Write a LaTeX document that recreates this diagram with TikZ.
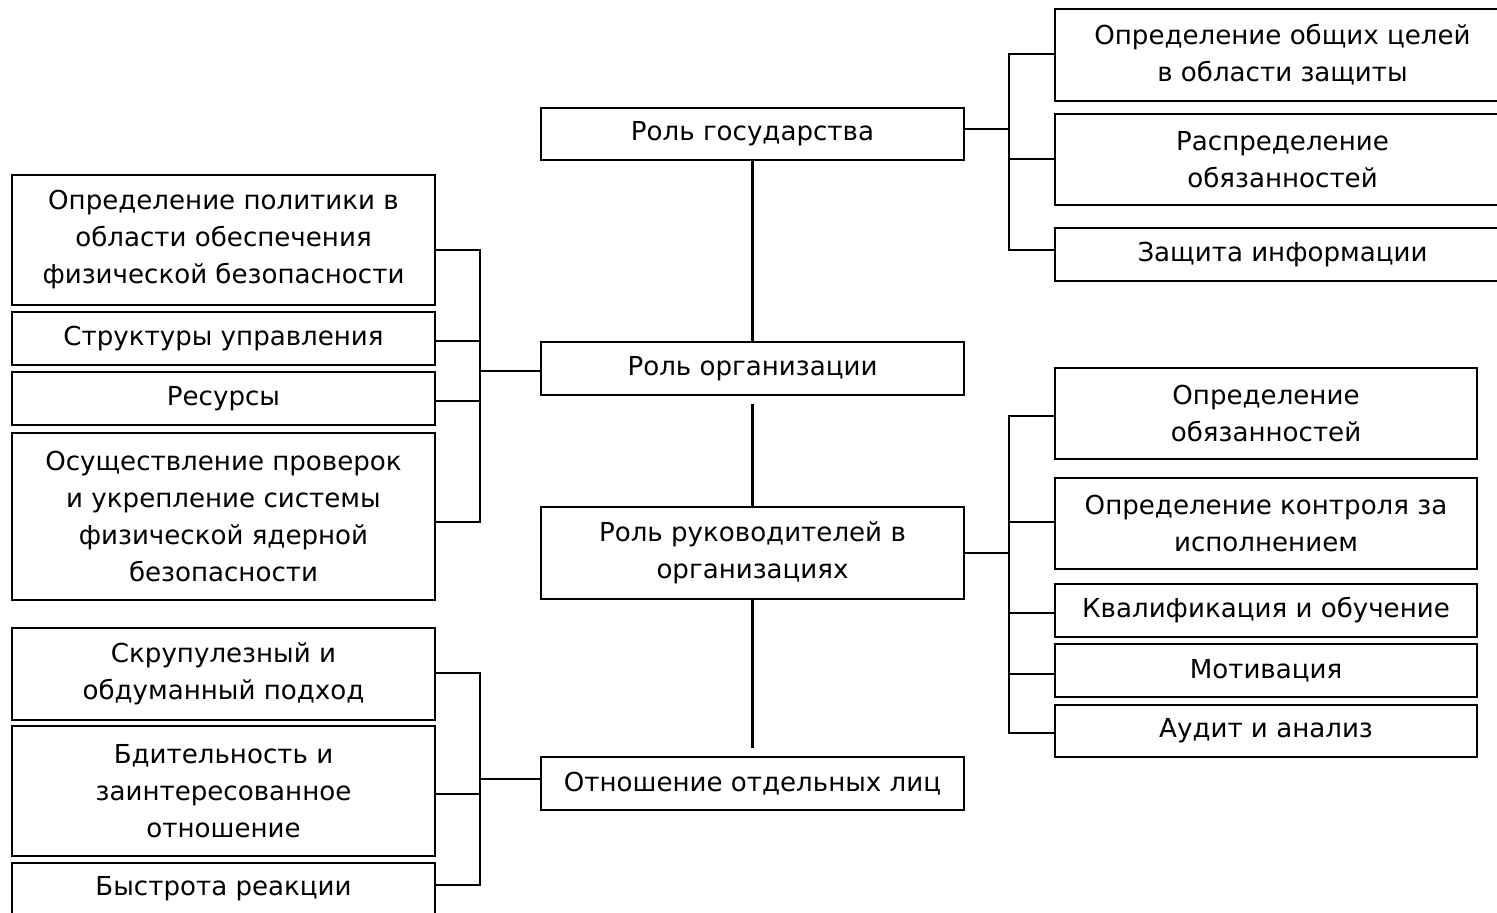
\documentclass[tikz,border=0pt]{standalone}
\usepackage{fontspec}
\setmainfont{DejaVu Sans}
\begin{document}
\begin{tikzpicture}[x=0.5pt,y=-0.5pt,
  box/.style={draw=black, line width=1.3pt, inner sep=0pt, align=center, fill=white,
    font=\fontsize{13.05}{18.5}\selectfont},
  link/.style={draw=black, line width=1.4pt, line cap=rect}]
\useasboundingbox (0,0) rectangle (1497,913);
\newcommand\mybox[6]{%
  \node[box, minimum width={(#4-#2)*0.5pt}, minimum height={(#5-#3)*0.5pt}]
    (#1) at ({(#2+#4)/2},{(#3+#5)/2+1}) {#6};}
% centre column
\mybox{gov}{541}{107}{964}{159}{Роль государства}
\mybox{org}{541}{341}{964}{394}{Роль организации}
\mybox{ruk}{541}{506}{964}{598}{Роль руководителей в\\организациях}
\mybox{otn}{541}{756}{964}{809}{Отношение отдельных лиц}
% top right
\mybox{t1}{1055}{8}{1510}{100}{Определение общих целей\\в области защиты}
\mybox{t2}{1055}{113}{1510}{204}{Распределение\\обязанностей}
\mybox{t3}{1055}{227}{1510}{280}{Защита информации}
% middle right
\mybox{r1}{1055}{367}{1477}{458}{Определение\\обязанностей}
\mybox{r2}{1055}{477}{1477}{568}{Определение контроля за\\исполнением}
\mybox{r3}{1055}{583}{1477}{636}{Квалификация и обучение}
\mybox{r4}{1055}{643}{1477}{696}{Мотивация}
\mybox{r5}{1055}{704}{1477}{756}{Аудит и анализ}
% top left
\mybox{l1}{12}{174}{435}{304}{Определение политики в\\области обеспечения\\физической безопасности}
\mybox{l2}{12}{311}{435}{364}{Структуры управления}
\mybox{l3}{12}{371}{435}{424}{Ресурсы}
\mybox{l4}{12}{432}{435}{599}{Осуществление проверок\\и укрепление системы\\физической ядерной\\безопасности}
% bottom left
\mybox{b1}{12}{627}{435}{719}{Скрупулезный и\\обдуманный подход}
\mybox{b2}{12}{725}{435}{855}{Бдительность и\\заинтересованное\\отношение}
\mybox{b3}{12}{862}{435}{914}{Быстрота реакции}
% bracket columns and branch levels
\coordinate (xr) at (1009,0);
\coordinate (xl) at (480,0);
\coordinate (ygov) at (0,129);
\coordinate (yt1) at (0,54);
\coordinate (yt2) at (0,159);
\coordinate (yt3) at (0,250);
\coordinate (yruk) at (0,553);
\coordinate (yr1) at (0,416);
\coordinate (yr2) at (0,522);
\coordinate (yr3) at (0,613);
\coordinate (yr4) at (0,674);
\coordinate (yr5) at (0,733);
\coordinate (yorg) at (0,371);
\coordinate (yl1) at (0,250);
\coordinate (yl2) at (0,341);
\coordinate (yl3) at (0,401);
\coordinate (yl4) at (0,522);
\coordinate (yotn) at (0,779);
\coordinate (yb1) at (0,673);
\coordinate (yb2) at (0,794);
\coordinate (yb3) at (0,885);
% centre spine
\draw[link, line cap=butt] (gov.south) -- (org.north);
\draw[link, line cap=butt] ([yshift=-4pt]org.south) -- (ruk.north);
\draw[link, line cap=butt] (ruk.south) -- ([yshift=4pt]otn.north);
% top right bracket
\draw[link] (gov.east |- ygov) -- (xr |- ygov);
\draw[link] (xr |- yt1) -- (xr |- yt3);
\foreach \n/\y in {t1/yt1,t2/yt2,t3/yt3} \draw[link] (\n.west |- \y) -- (xr |- \y);
% middle right bracket
\draw[link] (ruk.east |- yruk) -- (xr |- yruk);
\draw[link] (xr |- yr1) -- (xr |- yr5);
\foreach \n/\y in {r1/yr1,r2/yr2,r3/yr3,r4/yr4,r5/yr5} \draw[link] (\n.west |- \y) -- (xr |- \y);
% top left bracket
\draw[link] (org.west |- yorg) -- (xl |- yorg);
\draw[link] (xl |- yl1) -- (xl |- yl4);
\foreach \n/\y in {l1/yl1,l2/yl2,l3/yl3,l4/yl4} \draw[link] (\n.east |- \y) -- (xl |- \y);
% bottom left bracket
\draw[link] (otn.west |- yotn) -- (xl |- yotn);
\draw[link] (xl |- yb1) -- (xl |- yb3);
\foreach \n/\y in {b1/yb1,b2/yb2,b3/yb3} \draw[link] (\n.east |- \y) -- (xl |- \y);
\end{tikzpicture}
\end{document}
